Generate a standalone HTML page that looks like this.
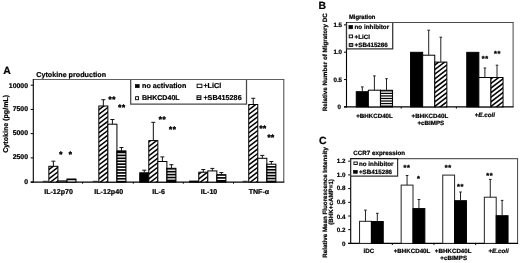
<!DOCTYPE html>
<html><head><meta charset="utf-8"><title>Figure</title>
<style>
html,body{margin:0;padding:0;background:#fff;}
body{width:520px;height:263px;overflow:hidden;}
svg{display:block;font-family:'Liberation Sans', sans-serif;fill:#000;}
text{text-rendering:geometricPrecision;font-weight:bold;stroke:#000;stroke-width:2.2px;stroke-linejoin:round;}
text.s{stroke-width:4.5px;letter-spacing:6px;}
text.s2{stroke-width:3.5px;letter-spacing:6px;}
</style></head>
<body>
<svg width="520" height="263" viewBox="0 0 520 263" style="filter:blur(0.25px)">
<rect x="0" y="0" width="520" height="263" fill="#fff"/>
<text transform="translate(3.20,74.20) scale(0.1)" font-size="105.0" text-anchor="start" >A</text>
<text transform="translate(36.30,76.50) scale(0.1)" font-size="71.8" text-anchor="start" >Cytokine production</text>
<text transform="translate(7.60,123.80) rotate(-90) scale(0.1)" font-size="71.0" text-anchor="middle">Cytokine (pg/mL)</text>
<line x1="33.30" y1="79.50" x2="284.30" y2="79.50" stroke="#606060" stroke-width="1"/>
<line x1="283.80" y1="79.50" x2="283.80" y2="182.10" stroke="#444" stroke-width="1"/>
<line x1="33.30" y1="79.00" x2="33.30" y2="182.60" stroke="#000" stroke-width="1.1"/>
<line x1="30.70" y1="182.10" x2="284.30" y2="182.10" stroke="#000" stroke-width="1.1"/>
<line x1="30.70" y1="182.10" x2="33.30" y2="182.10" stroke="#000" stroke-width="1.0"/>
<text transform="translate(28.00,183.70) scale(0.1)" font-size="69.0" text-anchor="end" >0</text>
<line x1="30.70" y1="157.88" x2="33.30" y2="157.88" stroke="#000" stroke-width="1.0"/>
<text transform="translate(28.00,159.40) scale(0.1)" font-size="69.0" text-anchor="end" >2500</text>
<line x1="30.70" y1="133.65" x2="33.30" y2="133.65" stroke="#000" stroke-width="1.0"/>
<text transform="translate(28.00,134.60) scale(0.1)" font-size="69.0" text-anchor="end" >5000</text>
<line x1="30.70" y1="109.42" x2="33.30" y2="109.42" stroke="#000" stroke-width="1.0"/>
<text transform="translate(28.00,110.60) scale(0.1)" font-size="69.0" text-anchor="end" >7500</text>
<line x1="30.70" y1="85.20" x2="33.30" y2="85.20" stroke="#000" stroke-width="1.0"/>
<text transform="translate(28.00,87.85) scale(0.1)" font-size="69.0" text-anchor="end" >10000</text>
<line x1="82.60" y1="182.10" x2="82.60" y2="183.70" stroke="#000" stroke-width="1.0"/>
<line x1="133.30" y1="182.10" x2="133.30" y2="183.70" stroke="#000" stroke-width="1.0"/>
<line x1="183.30" y1="182.10" x2="183.30" y2="183.70" stroke="#000" stroke-width="1.0"/>
<line x1="233.50" y1="182.10" x2="233.50" y2="183.70" stroke="#000" stroke-width="1.0"/>
<line x1="42.80" y1="181.30" x2="47.80" y2="181.30" stroke="#000" stroke-width="0.8"/>
<clipPath id="c1"><rect x="48.85" y="166.30" width="9.05" height="15.80"/></clipPath>
<rect x="48.85" y="166.30" width="9.05" height="15.80" fill="#fff"/>
<g clip-path="url(#c1)" stroke="#000" stroke-width="1.5">
<line x1="47.85" y1="193.34" x2="58.90" y2="184.94"/>
<line x1="47.85" y1="188.74" x2="58.90" y2="180.34"/>
<line x1="47.85" y1="184.14" x2="58.90" y2="175.74"/>
<line x1="47.85" y1="179.54" x2="58.90" y2="171.14"/>
<line x1="47.85" y1="174.94" x2="58.90" y2="166.54"/>
<line x1="47.85" y1="170.34" x2="58.90" y2="161.94"/>
<line x1="47.85" y1="165.74" x2="58.90" y2="157.34"/>
</g>
<rect x="48.85" y="166.30" width="9.05" height="15.80" fill="none" stroke="#000" stroke-width="1.0"/>
<line x1="53.37" y1="161.20" x2="53.37" y2="166.30" stroke="#111" stroke-width="1.0"/>
<line x1="51.37" y1="161.20" x2="55.37" y2="161.20" stroke="#111" stroke-width="1.0"/>
<rect x="57.90" y="180.90" width="9.05" height="1.20" fill="#fff" stroke="#000" stroke-width="1.0"/>
<rect x="66.95" y="179.00" width="9.05" height="3.10" fill="#000" stroke="#000" stroke-width="1.0"/>
<rect x="67.55" y="180.25" width="7.85" height="1.25" fill="#fff"/>
<text transform="translate(58.60,193.80) scale(0.1)" font-size="71.0" text-anchor="middle" >IL-12p70</text>
<line x1="92.77" y1="181.30" x2="97.77" y2="181.30" stroke="#000" stroke-width="0.8"/>
<clipPath id="c2"><rect x="98.82" y="106.00" width="9.05" height="76.10"/></clipPath>
<rect x="98.82" y="106.00" width="9.05" height="76.10" fill="#fff"/>
<g clip-path="url(#c2)" stroke="#000" stroke-width="1.5">
<line x1="97.82" y1="193.34" x2="108.87" y2="184.94"/>
<line x1="97.82" y1="188.74" x2="108.87" y2="180.34"/>
<line x1="97.82" y1="184.14" x2="108.87" y2="175.74"/>
<line x1="97.82" y1="179.54" x2="108.87" y2="171.14"/>
<line x1="97.82" y1="174.94" x2="108.87" y2="166.54"/>
<line x1="97.82" y1="170.34" x2="108.87" y2="161.94"/>
<line x1="97.82" y1="165.74" x2="108.87" y2="157.34"/>
<line x1="97.82" y1="161.14" x2="108.87" y2="152.74"/>
<line x1="97.82" y1="156.54" x2="108.87" y2="148.14"/>
<line x1="97.82" y1="151.94" x2="108.87" y2="143.54"/>
<line x1="97.82" y1="147.34" x2="108.87" y2="138.94"/>
<line x1="97.82" y1="142.74" x2="108.87" y2="134.34"/>
<line x1="97.82" y1="138.14" x2="108.87" y2="129.74"/>
<line x1="97.82" y1="133.54" x2="108.87" y2="125.14"/>
<line x1="97.82" y1="128.94" x2="108.87" y2="120.54"/>
<line x1="97.82" y1="124.34" x2="108.87" y2="115.94"/>
<line x1="97.82" y1="119.74" x2="108.87" y2="111.34"/>
<line x1="97.82" y1="115.14" x2="108.87" y2="106.74"/>
<line x1="97.82" y1="110.54" x2="108.87" y2="102.14"/>
<line x1="97.82" y1="105.94" x2="108.87" y2="97.54"/>
</g>
<rect x="98.82" y="106.00" width="9.05" height="76.10" fill="none" stroke="#000" stroke-width="1.0"/>
<line x1="103.34" y1="99.70" x2="103.34" y2="106.00" stroke="#111" stroke-width="1.0"/>
<line x1="101.34" y1="99.70" x2="105.34" y2="99.70" stroke="#111" stroke-width="1.0"/>
<rect x="107.87" y="124.20" width="9.05" height="57.90" fill="#fff" stroke="#000" stroke-width="1.0"/>
<line x1="112.40" y1="119.50" x2="112.40" y2="124.20" stroke="#111" stroke-width="1.0"/>
<line x1="110.40" y1="119.50" x2="114.40" y2="119.50" stroke="#111" stroke-width="1.0"/>
<rect x="116.92" y="150.90" width="9.05" height="31.20" fill="#000" stroke="#000" stroke-width="1.0"/>
<rect x="117.52" y="153.30" width="7.85" height="1.25" fill="#fff"/>
<rect x="117.52" y="156.22" width="7.85" height="1.25" fill="#fff"/>
<rect x="117.52" y="159.14" width="7.85" height="1.25" fill="#fff"/>
<rect x="117.52" y="162.06" width="7.85" height="1.25" fill="#fff"/>
<rect x="117.52" y="164.98" width="7.85" height="1.25" fill="#fff"/>
<rect x="117.52" y="167.90" width="7.85" height="1.25" fill="#fff"/>
<rect x="117.52" y="170.82" width="7.85" height="1.25" fill="#fff"/>
<rect x="117.52" y="173.74" width="7.85" height="1.25" fill="#fff"/>
<rect x="117.52" y="176.66" width="7.85" height="1.25" fill="#fff"/>
<rect x="117.52" y="179.58" width="7.85" height="1.25" fill="#fff"/>
<line x1="121.45" y1="147.50" x2="121.45" y2="150.90" stroke="#111" stroke-width="1.0"/>
<line x1="119.45" y1="147.50" x2="123.45" y2="147.50" stroke="#111" stroke-width="1.0"/>
<text transform="translate(108.70,193.80) scale(0.1)" font-size="71.0" text-anchor="middle" >IL-12p40</text>
<rect x="139.74" y="172.80" width="9.05" height="9.30" fill="#000" stroke="#000" stroke-width="1.0"/>
<line x1="144.27" y1="170.20" x2="144.27" y2="172.30" stroke="#111" stroke-width="1.0"/>
<line x1="142.27" y1="170.20" x2="146.27" y2="170.20" stroke="#111" stroke-width="1.0"/>
<clipPath id="c3"><rect x="148.79" y="140.60" width="9.05" height="41.50"/></clipPath>
<rect x="148.79" y="140.60" width="9.05" height="41.50" fill="#fff"/>
<g clip-path="url(#c3)" stroke="#000" stroke-width="1.5">
<line x1="147.79" y1="193.34" x2="158.84" y2="184.94"/>
<line x1="147.79" y1="188.74" x2="158.84" y2="180.34"/>
<line x1="147.79" y1="184.14" x2="158.84" y2="175.74"/>
<line x1="147.79" y1="179.54" x2="158.84" y2="171.14"/>
<line x1="147.79" y1="174.94" x2="158.84" y2="166.54"/>
<line x1="147.79" y1="170.34" x2="158.84" y2="161.94"/>
<line x1="147.79" y1="165.74" x2="158.84" y2="157.34"/>
<line x1="147.79" y1="161.14" x2="158.84" y2="152.74"/>
<line x1="147.79" y1="156.54" x2="158.84" y2="148.14"/>
<line x1="147.79" y1="151.94" x2="158.84" y2="143.54"/>
<line x1="147.79" y1="147.34" x2="158.84" y2="138.94"/>
<line x1="147.79" y1="142.74" x2="158.84" y2="134.34"/>
<line x1="147.79" y1="138.14" x2="158.84" y2="129.74"/>
</g>
<rect x="148.79" y="140.60" width="9.05" height="41.50" fill="none" stroke="#000" stroke-width="1.0"/>
<line x1="153.32" y1="122.30" x2="153.32" y2="140.60" stroke="#111" stroke-width="1.0"/>
<line x1="151.32" y1="122.30" x2="155.32" y2="122.30" stroke="#111" stroke-width="1.0"/>
<rect x="157.84" y="161.50" width="9.05" height="20.60" fill="#fff" stroke="#000" stroke-width="1.0"/>
<line x1="162.37" y1="156.90" x2="162.37" y2="161.50" stroke="#111" stroke-width="1.0"/>
<line x1="160.37" y1="156.90" x2="164.37" y2="156.90" stroke="#111" stroke-width="1.0"/>
<rect x="166.89" y="168.30" width="9.05" height="13.80" fill="#000" stroke="#000" stroke-width="1.0"/>
<rect x="167.49" y="169.60" width="7.85" height="1.25" fill="#fff"/>
<rect x="167.49" y="172.52" width="7.85" height="1.25" fill="#fff"/>
<rect x="167.49" y="175.44" width="7.85" height="1.25" fill="#fff"/>
<rect x="167.49" y="178.36" width="7.85" height="1.25" fill="#fff"/>
<line x1="171.42" y1="164.70" x2="171.42" y2="168.30" stroke="#111" stroke-width="1.0"/>
<line x1="169.42" y1="164.70" x2="173.42" y2="164.70" stroke="#111" stroke-width="1.0"/>
<text transform="translate(158.60,193.80) scale(0.1)" font-size="71.0" text-anchor="middle" >IL-6</text>
<rect x="189.71" y="181.10" width="9.05" height="1.00" fill="#000" stroke="#000" stroke-width="1.0"/>
<clipPath id="c4"><rect x="198.76" y="172.20" width="9.05" height="9.90"/></clipPath>
<rect x="198.76" y="172.20" width="9.05" height="9.90" fill="#fff"/>
<g clip-path="url(#c4)" stroke="#000" stroke-width="1.5">
<line x1="197.76" y1="193.34" x2="208.81" y2="184.94"/>
<line x1="197.76" y1="188.74" x2="208.81" y2="180.34"/>
<line x1="197.76" y1="184.14" x2="208.81" y2="175.74"/>
<line x1="197.76" y1="179.54" x2="208.81" y2="171.14"/>
<line x1="197.76" y1="174.94" x2="208.81" y2="166.54"/>
<line x1="197.76" y1="170.34" x2="208.81" y2="161.94"/>
</g>
<rect x="198.76" y="172.20" width="9.05" height="9.90" fill="none" stroke="#000" stroke-width="1.0"/>
<line x1="203.28" y1="169.50" x2="203.28" y2="172.20" stroke="#111" stroke-width="1.0"/>
<line x1="201.28" y1="169.50" x2="205.28" y2="169.50" stroke="#111" stroke-width="1.0"/>
<rect x="207.81" y="170.90" width="9.05" height="11.20" fill="#fff" stroke="#000" stroke-width="1.0"/>
<line x1="212.33" y1="168.40" x2="212.33" y2="170.90" stroke="#111" stroke-width="1.0"/>
<line x1="210.33" y1="168.40" x2="214.33" y2="168.40" stroke="#111" stroke-width="1.0"/>
<rect x="216.86" y="174.70" width="9.05" height="7.40" fill="#000" stroke="#000" stroke-width="1.0"/>
<rect x="217.46" y="175.80" width="7.85" height="1.25" fill="#fff"/>
<rect x="217.46" y="178.72" width="7.85" height="1.25" fill="#fff"/>
<line x1="221.38" y1="172.60" x2="221.38" y2="174.70" stroke="#111" stroke-width="1.0"/>
<line x1="219.38" y1="172.60" x2="223.38" y2="172.60" stroke="#111" stroke-width="1.0"/>
<text transform="translate(209.00,193.80) scale(0.1)" font-size="71.0" text-anchor="middle" >IL-10</text>
<line x1="242.68" y1="181.30" x2="247.68" y2="181.30" stroke="#000" stroke-width="0.8"/>
<clipPath id="c5"><rect x="248.73" y="104.50" width="9.05" height="77.60"/></clipPath>
<rect x="248.73" y="104.50" width="9.05" height="77.60" fill="#fff"/>
<g clip-path="url(#c5)" stroke="#000" stroke-width="1.5">
<line x1="247.73" y1="193.34" x2="258.78" y2="184.94"/>
<line x1="247.73" y1="188.74" x2="258.78" y2="180.34"/>
<line x1="247.73" y1="184.14" x2="258.78" y2="175.74"/>
<line x1="247.73" y1="179.54" x2="258.78" y2="171.14"/>
<line x1="247.73" y1="174.94" x2="258.78" y2="166.54"/>
<line x1="247.73" y1="170.34" x2="258.78" y2="161.94"/>
<line x1="247.73" y1="165.74" x2="258.78" y2="157.34"/>
<line x1="247.73" y1="161.14" x2="258.78" y2="152.74"/>
<line x1="247.73" y1="156.54" x2="258.78" y2="148.14"/>
<line x1="247.73" y1="151.94" x2="258.78" y2="143.54"/>
<line x1="247.73" y1="147.34" x2="258.78" y2="138.94"/>
<line x1="247.73" y1="142.74" x2="258.78" y2="134.34"/>
<line x1="247.73" y1="138.14" x2="258.78" y2="129.74"/>
<line x1="247.73" y1="133.54" x2="258.78" y2="125.14"/>
<line x1="247.73" y1="128.94" x2="258.78" y2="120.54"/>
<line x1="247.73" y1="124.34" x2="258.78" y2="115.94"/>
<line x1="247.73" y1="119.74" x2="258.78" y2="111.34"/>
<line x1="247.73" y1="115.14" x2="258.78" y2="106.74"/>
<line x1="247.73" y1="110.54" x2="258.78" y2="102.14"/>
<line x1="247.73" y1="105.94" x2="258.78" y2="97.54"/>
<line x1="247.73" y1="101.34" x2="258.78" y2="92.94"/>
</g>
<rect x="248.73" y="104.50" width="9.05" height="77.60" fill="none" stroke="#000" stroke-width="1.0"/>
<line x1="253.26" y1="98.30" x2="253.26" y2="104.50" stroke="#111" stroke-width="1.0"/>
<line x1="251.26" y1="98.30" x2="255.26" y2="98.30" stroke="#111" stroke-width="1.0"/>
<rect x="257.78" y="158.30" width="9.05" height="23.80" fill="#fff" stroke="#000" stroke-width="1.0"/>
<line x1="262.31" y1="155.40" x2="262.31" y2="158.30" stroke="#111" stroke-width="1.0"/>
<line x1="260.31" y1="155.40" x2="264.31" y2="155.40" stroke="#111" stroke-width="1.0"/>
<rect x="266.83" y="164.20" width="9.05" height="17.90" fill="#000" stroke="#000" stroke-width="1.0"/>
<rect x="267.43" y="164.75" width="7.85" height="1.25" fill="#fff"/>
<rect x="267.43" y="167.67" width="7.85" height="1.25" fill="#fff"/>
<rect x="267.43" y="170.59" width="7.85" height="1.25" fill="#fff"/>
<rect x="267.43" y="173.51" width="7.85" height="1.25" fill="#fff"/>
<rect x="267.43" y="176.43" width="7.85" height="1.25" fill="#fff"/>
<rect x="267.43" y="179.35" width="7.85" height="1.25" fill="#fff"/>
<line x1="271.35" y1="161.50" x2="271.35" y2="164.20" stroke="#111" stroke-width="1.0"/>
<line x1="269.35" y1="161.50" x2="273.35" y2="161.50" stroke="#111" stroke-width="1.0"/>
<text transform="translate(258.90,193.80) scale(0.1)" font-size="71.0" text-anchor="middle" >TNF-&#945;</text>
<text transform="translate(61.10,157.08) scale(0.1)" font-size="80.0" text-anchor="middle" class="s">*</text>
<text transform="translate(70.50,157.08) scale(0.1)" font-size="80.0" text-anchor="middle" class="s">*</text>
<text transform="translate(112.30,102.18) scale(0.1)" font-size="80.0" text-anchor="middle" class="s">**</text>
<text transform="translate(121.90,110.08) scale(0.1)" font-size="80.0" text-anchor="middle" class="s">**</text>
<text transform="translate(162.40,122.48) scale(0.1)" font-size="80.0" text-anchor="middle" class="s">**</text>
<text transform="translate(172.70,131.88) scale(0.1)" font-size="80.0" text-anchor="middle" class="s">**</text>
<text transform="translate(263.10,130.98) scale(0.1)" font-size="80.0" text-anchor="middle" class="s">**</text>
<text transform="translate(271.10,140.38) scale(0.1)" font-size="80.0" text-anchor="middle" class="s">**</text>
<path d="M130.70 80.00V104.20H246.50V80.00" fill="#fff" stroke="#484848" stroke-width="1.25"/>
<rect x="135.30" y="84.50" width="3.90" height="3.20" fill="#000" stroke="#000" stroke-width="0.6"/>
<text transform="translate(142.00,88.30) scale(0.1)" font-size="72.0" text-anchor="start" >no activation</text>
<rect x="197.10" y="84.20" width="4.80" height="3.40" fill="#fff" stroke="#000" stroke-width="0.9"/>
<text transform="translate(203.40,87.80) scale(0.1)" font-size="72.0" text-anchor="start" >+LiCl</text>
<rect x="135.60" y="96.70" width="3.00" height="3.00" fill="#fff" stroke="#000" stroke-width="0.9"/>
<text transform="translate(142.00,100.20) scale(0.1)" font-size="70.5" text-anchor="start" >BHKCD40L</text>
<rect x="197.00" y="95.80" width="3.90" height="3.70" fill="#fff" stroke="#000" stroke-width="1.0"/>
<line x1="197.00" y1="97.65" x2="200.90" y2="97.65" stroke="#000" stroke-width="0.9"/>
<text transform="translate(203.40,100.40) scale(0.1)" font-size="72.0" text-anchor="start" >+SB415286</text>
<text transform="translate(318.40,9.40) scale(0.1)" font-size="105.0" text-anchor="start" >B</text>
<text transform="translate(348.90,18.50) scale(0.0945,0.1)" font-size="62.5">Migration</text>
<text transform="translate(327.00,62.20) rotate(-90) scale(0.1)" font-size="62.5" text-anchor="middle">Relative Number of Migratory DC</text>
<line x1="346.50" y1="22.50" x2="513.60" y2="22.50" stroke="#4a4a4a" stroke-width="1.1"/>
<line x1="513.10" y1="22.50" x2="513.10" y2="106.90" stroke="#444" stroke-width="1"/>
<line x1="346.50" y1="22.00" x2="346.50" y2="107.40" stroke="#000" stroke-width="1.1"/>
<line x1="344.00" y1="106.90" x2="513.60" y2="106.90" stroke="#000" stroke-width="1.1"/>
<line x1="344.00" y1="106.90" x2="346.50" y2="106.90" stroke="#000" stroke-width="1.0"/>
<text transform="translate(340.90,109.15) scale(0.1)" font-size="62.5" text-anchor="end" >0</text>
<line x1="344.00" y1="79.55" x2="346.50" y2="79.55" stroke="#000" stroke-width="1.0"/>
<text transform="translate(342.10,81.80) scale(0.1)" font-size="62.5" text-anchor="end" >0.5</text>
<line x1="344.00" y1="52.20" x2="346.50" y2="52.20" stroke="#000" stroke-width="1.0"/>
<text transform="translate(342.10,54.45) scale(0.1)" font-size="62.5" text-anchor="end" >1.0</text>
<line x1="344.00" y1="24.85" x2="346.50" y2="24.85" stroke="#000" stroke-width="1.0"/>
<text transform="translate(342.10,27.10) scale(0.1)" font-size="62.5" text-anchor="end" >1.5</text>
<line x1="401.20" y1="106.90" x2="401.20" y2="108.50" stroke="#000" stroke-width="1.0"/>
<line x1="456.40" y1="106.90" x2="456.40" y2="108.50" stroke="#000" stroke-width="1.0"/>
<rect x="356.25" y="91.70" width="12.10" height="15.20" fill="#000" stroke="#000" stroke-width="1.0"/>
<line x1="362.30" y1="86.90" x2="362.30" y2="91.20" stroke="#222" stroke-width="1.0"/>
<line x1="361.00" y1="86.90" x2="363.60" y2="86.90" stroke="#222" stroke-width="1.0"/>
<rect x="368.35" y="90.20" width="12.10" height="16.70" fill="#fff" stroke="#000" stroke-width="1.0"/>
<line x1="374.40" y1="75.90" x2="374.40" y2="90.20" stroke="#222" stroke-width="1.0"/>
<line x1="373.10" y1="75.90" x2="375.70" y2="75.90" stroke="#222" stroke-width="1.0"/>
<rect x="380.45" y="90.30" width="12.10" height="16.60" fill="#000" stroke="#000" stroke-width="1.0"/>
<rect x="381.05" y="91.45" width="10.90" height="1.30" fill="#fff"/>
<rect x="381.05" y="94.00" width="10.90" height="1.30" fill="#fff"/>
<rect x="381.05" y="96.55" width="10.90" height="1.30" fill="#fff"/>
<rect x="381.05" y="99.10" width="10.90" height="1.30" fill="#fff"/>
<rect x="381.05" y="101.65" width="10.90" height="1.30" fill="#fff"/>
<rect x="381.05" y="104.20" width="10.90" height="1.30" fill="#fff"/>
<line x1="386.50" y1="78.70" x2="386.50" y2="90.30" stroke="#222" stroke-width="1.0"/>
<line x1="385.20" y1="78.70" x2="387.80" y2="78.70" stroke="#222" stroke-width="1.0"/>
<rect x="410.55" y="52.30" width="12.10" height="54.60" fill="#000" stroke="#000" stroke-width="1.0"/>
<rect x="422.65" y="55.20" width="12.10" height="51.70" fill="#fff" stroke="#000" stroke-width="1.0"/>
<line x1="428.70" y1="30.20" x2="428.70" y2="55.20" stroke="#222" stroke-width="1.0"/>
<line x1="427.40" y1="30.20" x2="430.00" y2="30.20" stroke="#222" stroke-width="1.0"/>
<clipPath id="c6"><rect x="434.75" y="62.10" width="12.10" height="44.80"/></clipPath>
<rect x="434.75" y="62.10" width="12.10" height="44.80" fill="#fff"/>
<g clip-path="url(#c6)" stroke="#000" stroke-width="1.55">
<line x1="433.75" y1="120.96" x2="447.85" y2="110.24"/>
<line x1="433.75" y1="116.36" x2="447.85" y2="105.64"/>
<line x1="433.75" y1="111.76" x2="447.85" y2="101.04"/>
<line x1="433.75" y1="107.16" x2="447.85" y2="96.44"/>
<line x1="433.75" y1="102.56" x2="447.85" y2="91.84"/>
<line x1="433.75" y1="97.96" x2="447.85" y2="87.24"/>
<line x1="433.75" y1="93.36" x2="447.85" y2="82.64"/>
<line x1="433.75" y1="88.76" x2="447.85" y2="78.04"/>
<line x1="433.75" y1="84.16" x2="447.85" y2="73.44"/>
<line x1="433.75" y1="79.56" x2="447.85" y2="68.84"/>
<line x1="433.75" y1="74.96" x2="447.85" y2="64.24"/>
<line x1="433.75" y1="70.36" x2="447.85" y2="59.64"/>
<line x1="433.75" y1="65.76" x2="447.85" y2="55.04"/>
<line x1="433.75" y1="61.16" x2="447.85" y2="50.44"/>
</g>
<rect x="434.75" y="62.10" width="12.10" height="44.80" fill="none" stroke="#000" stroke-width="1.0"/>
<line x1="440.80" y1="37.20" x2="440.80" y2="62.10" stroke="#222" stroke-width="1.0"/>
<line x1="439.50" y1="37.20" x2="442.10" y2="37.20" stroke="#222" stroke-width="1.0"/>
<rect x="466.75" y="52.35" width="12.10" height="54.55" fill="#000" stroke="#000" stroke-width="1.0"/>
<rect x="478.85" y="77.50" width="12.10" height="29.40" fill="#fff" stroke="#000" stroke-width="1.0"/>
<line x1="484.90" y1="68.00" x2="484.90" y2="77.50" stroke="#222" stroke-width="1.0"/>
<line x1="483.60" y1="68.00" x2="486.20" y2="68.00" stroke="#222" stroke-width="1.0"/>
<clipPath id="c7"><rect x="490.95" y="77.50" width="12.10" height="29.40"/></clipPath>
<rect x="490.95" y="77.50" width="12.10" height="29.40" fill="#fff"/>
<g clip-path="url(#c7)" stroke="#000" stroke-width="1.55">
<line x1="489.95" y1="120.96" x2="504.05" y2="110.24"/>
<line x1="489.95" y1="116.36" x2="504.05" y2="105.64"/>
<line x1="489.95" y1="111.76" x2="504.05" y2="101.04"/>
<line x1="489.95" y1="107.16" x2="504.05" y2="96.44"/>
<line x1="489.95" y1="102.56" x2="504.05" y2="91.84"/>
<line x1="489.95" y1="97.96" x2="504.05" y2="87.24"/>
<line x1="489.95" y1="93.36" x2="504.05" y2="82.64"/>
<line x1="489.95" y1="88.76" x2="504.05" y2="78.04"/>
<line x1="489.95" y1="84.16" x2="504.05" y2="73.44"/>
<line x1="489.95" y1="79.56" x2="504.05" y2="68.84"/>
<line x1="489.95" y1="74.96" x2="504.05" y2="64.24"/>
</g>
<rect x="490.95" y="77.50" width="12.10" height="29.40" fill="none" stroke="#000" stroke-width="1.0"/>
<line x1="497.00" y1="65.20" x2="497.00" y2="77.50" stroke="#222" stroke-width="1.0"/>
<line x1="495.70" y1="65.20" x2="498.30" y2="65.20" stroke="#222" stroke-width="1.0"/>
<text transform="translate(374.50,117.60) scale(0.1)" font-size="62.0" text-anchor="middle" >+BHKCD40L</text>
<text transform="translate(429.90,117.60) scale(0.1)" font-size="62.0" text-anchor="middle" >+BHKCD40L</text>
<text transform="translate(430.80,125.00) scale(0.1)" font-size="62.0" text-anchor="middle" >+cBIMPS</text>
<text transform="translate(484.80,117.10) scale(0.1)" font-size="62.5" text-anchor="middle" >+<tspan font-style="italic">E.coli</tspan></text>
<text transform="translate(485.20,60.54) scale(0.1)" font-size="74.0" text-anchor="middle" class="s2">**</text>
<text transform="translate(497.40,56.04) scale(0.1)" font-size="74.0" text-anchor="middle" class="s2">**</text>
<path d="M346.50 23.00V48.90H392.70V23.00" fill="#fff" stroke="#333" stroke-width="1.25"/>
<rect x="348.90" y="25.40" width="3.80" height="3.40" fill="#000" stroke="#000" stroke-width="0.6"/>
<text transform="translate(354.50,29.30) scale(0.1)" font-size="63.0" text-anchor="start" >no inhibitor</text>
<rect x="349.20" y="35.00" width="3.40" height="2.80" fill="#fff" stroke="#000" stroke-width="0.9"/>
<text transform="translate(354.60,38.60) scale(0.1)" font-size="62.5" text-anchor="start" >+LiCl</text>
<rect x="349.20" y="43.60" width="3.60" height="2.80" fill="#fff" stroke="#000" stroke-width="0.9"/>
<line x1="349.20" y1="45.00" x2="352.80" y2="45.00" stroke="#000" stroke-width="0.8"/>
<text transform="translate(354.60,47.00) scale(0.1)" font-size="62.5" text-anchor="start" >+SB415286</text>
<text transform="translate(318.90,143.60) scale(0.1)" font-size="105.0" text-anchor="start" >C</text>
<text transform="translate(353.30,154.50) scale(0.1)" font-size="62.5" text-anchor="start" >CCR7 expression</text>
<text transform="translate(326.70,202.40) rotate(-90) scale(0.1)" font-size="62.2" text-anchor="middle">Relative Mean Fluorescence Intensity</text>
<text transform="translate(333.20,201.90) rotate(-90) scale(0.1)" font-size="62.2" text-anchor="middle">(BHK+cAMP=1)</text>
<line x1="350.70" y1="158.60" x2="518.10" y2="158.60" stroke="#606060" stroke-width="1.05"/>
<line x1="517.60" y1="158.60" x2="517.60" y2="243.40" stroke="#444" stroke-width="1"/>
<line x1="350.70" y1="158.10" x2="350.70" y2="243.90" stroke="#000" stroke-width="1.1"/>
<line x1="348.20" y1="243.40" x2="518.10" y2="243.40" stroke="#000" stroke-width="1.1"/>
<line x1="348.20" y1="243.40" x2="350.70" y2="243.40" stroke="#000" stroke-width="1.0"/>
<text transform="translate(345.40,245.90) scale(0.1)" font-size="62.5" text-anchor="end" >0</text>
<line x1="348.20" y1="229.70" x2="350.70" y2="229.70" stroke="#000" stroke-width="1.0"/>
<text transform="translate(345.40,232.20) scale(0.1)" font-size="62.5" text-anchor="end" >0.2</text>
<line x1="348.20" y1="216.00" x2="350.70" y2="216.00" stroke="#000" stroke-width="1.0"/>
<text transform="translate(345.40,218.50) scale(0.1)" font-size="62.5" text-anchor="end" >0.4</text>
<line x1="348.20" y1="202.30" x2="350.70" y2="202.30" stroke="#000" stroke-width="1.0"/>
<text transform="translate(345.40,204.35) scale(0.1)" font-size="62.5" text-anchor="end" >0.6</text>
<line x1="348.20" y1="188.60" x2="350.70" y2="188.60" stroke="#000" stroke-width="1.0"/>
<text transform="translate(345.40,189.80) scale(0.1)" font-size="62.5" text-anchor="end" >0.8</text>
<line x1="348.20" y1="174.90" x2="350.70" y2="174.90" stroke="#000" stroke-width="1.0"/>
<text transform="translate(345.40,176.50) scale(0.1)" font-size="62.5" text-anchor="end" >1.0</text>
<line x1="348.20" y1="161.20" x2="350.70" y2="161.20" stroke="#000" stroke-width="1.0"/>
<text transform="translate(345.40,162.50) scale(0.1)" font-size="62.5" text-anchor="end" >1.2</text>
<line x1="392.30" y1="243.40" x2="392.30" y2="245.00" stroke="#000" stroke-width="1.0"/>
<line x1="434.00" y1="243.40" x2="434.00" y2="245.00" stroke="#000" stroke-width="1.0"/>
<line x1="475.70" y1="243.40" x2="475.70" y2="245.00" stroke="#000" stroke-width="1.0"/>
<rect x="359.55" y="221.30" width="11.85" height="22.10" fill="#fff" stroke="#222" stroke-width="1.0"/>
<line x1="365.47" y1="210.10" x2="365.47" y2="221.30" stroke="#222" stroke-width="1.0"/>
<line x1="364.17" y1="210.10" x2="366.77" y2="210.10" stroke="#222" stroke-width="1.0"/>
<rect x="371.40" y="221.50" width="11.85" height="21.90" fill="#000" stroke="#000" stroke-width="1.0"/>
<line x1="377.32" y1="213.30" x2="377.32" y2="221.00" stroke="#222" stroke-width="1.0"/>
<line x1="376.02" y1="213.30" x2="378.62" y2="213.30" stroke="#222" stroke-width="1.0"/>
<rect x="401.15" y="185.10" width="11.85" height="58.30" fill="#fff" stroke="#222" stroke-width="1.0"/>
<line x1="407.07" y1="175.50" x2="407.07" y2="185.10" stroke="#222" stroke-width="1.0"/>
<line x1="405.77" y1="175.50" x2="408.38" y2="175.50" stroke="#222" stroke-width="1.0"/>
<rect x="413.00" y="208.60" width="11.85" height="34.80" fill="#000" stroke="#000" stroke-width="1.0"/>
<line x1="418.93" y1="199.50" x2="418.93" y2="208.10" stroke="#222" stroke-width="1.0"/>
<line x1="417.62" y1="199.50" x2="420.23" y2="199.50" stroke="#222" stroke-width="1.0"/>
<rect x="442.75" y="175.10" width="11.85" height="68.30" fill="#fff" stroke="#222" stroke-width="1.0"/>
<rect x="454.60" y="200.70" width="11.85" height="42.70" fill="#000" stroke="#000" stroke-width="1.0"/>
<line x1="460.53" y1="192.00" x2="460.53" y2="200.20" stroke="#222" stroke-width="1.0"/>
<line x1="459.23" y1="192.00" x2="461.83" y2="192.00" stroke="#222" stroke-width="1.0"/>
<rect x="484.35" y="197.20" width="11.85" height="46.20" fill="#fff" stroke="#222" stroke-width="1.0"/>
<line x1="490.27" y1="179.40" x2="490.27" y2="197.20" stroke="#222" stroke-width="1.0"/>
<line x1="488.97" y1="179.40" x2="491.57" y2="179.40" stroke="#222" stroke-width="1.0"/>
<rect x="496.20" y="215.70" width="11.85" height="27.70" fill="#000" stroke="#000" stroke-width="1.0"/>
<line x1="502.12" y1="200.40" x2="502.12" y2="215.20" stroke="#222" stroke-width="1.0"/>
<line x1="500.82" y1="200.40" x2="503.43" y2="200.40" stroke="#222" stroke-width="1.0"/>
<text transform="translate(369.00,253.40) scale(0.1)" font-size="62.5" text-anchor="middle" >iDC</text>
<text transform="translate(412.00,253.40) scale(0.1)" font-size="62.0" text-anchor="middle" >+BHKCD40L</text>
<text transform="translate(453.20,253.20) scale(0.1)" font-size="62.0" text-anchor="middle" >+BHKCD40L</text>
<text transform="translate(453.70,259.90) scale(0.1)" font-size="62.0" text-anchor="middle" >+cBIMPS</text>
<text transform="translate(498.60,253.40) scale(0.1)" font-size="62.5" text-anchor="middle" >+<tspan font-style="italic">E.coli</tspan></text>
<text transform="translate(407.00,170.24) scale(0.1)" font-size="74.0" text-anchor="middle" class="s2">**</text>
<text transform="translate(418.80,180.94) scale(0.1)" font-size="74.0" text-anchor="middle" class="s2">*</text>
<text transform="translate(448.20,170.24) scale(0.1)" font-size="74.0" text-anchor="middle" class="s2">**</text>
<text transform="translate(460.60,188.94) scale(0.1)" font-size="74.0" text-anchor="middle" class="s2">**</text>
<text transform="translate(489.80,177.64) scale(0.1)" font-size="74.0" text-anchor="middle" class="s2">**</text>
<path d="M350.70 159.10V176.10H397.60V159.10" fill="#fff" stroke="#333" stroke-width="1.2"/>
<line x1="350.70" y1="158.60" x2="398.20" y2="158.60" stroke="#1a1a1a" stroke-width="1.2"/>
<rect x="353.90" y="162.00" width="3.40" height="2.50" fill="#fff" stroke="#000" stroke-width="0.9"/>
<text transform="translate(358.90,166.30) scale(0.1)" font-size="63.0" text-anchor="start" >no inhibitor</text>
<rect x="353.50" y="170.30" width="3.80" height="3.00" fill="#000" stroke="#000" stroke-width="0.6"/>
<text transform="translate(358.90,173.90) scale(0.1)" font-size="62.5" text-anchor="start" >+SB415286</text>
</svg>
</body></html>
